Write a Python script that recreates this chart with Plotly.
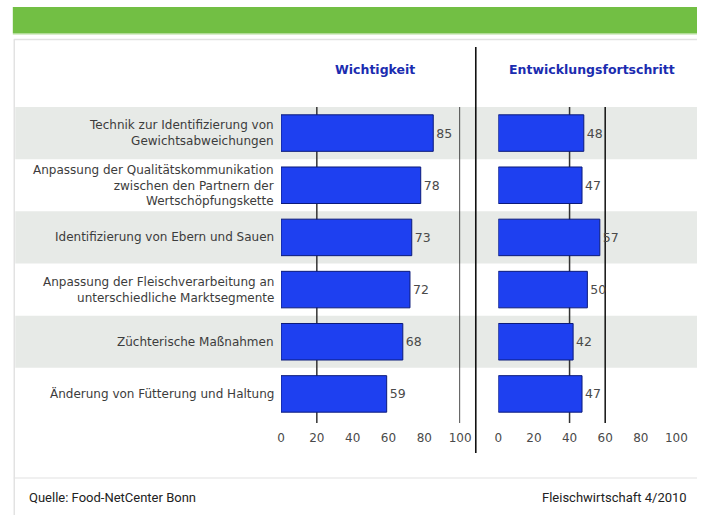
import plotly.graph_objects as go

categories = [
    "Technik zur Identifizierung von<br>Gewichtsabweichungen",
    "Anpassung der Qualitätskommunikation<br>zwischen den Partnern der<br>Wertschöpfungskette",
    "Identifizierung von Ebern und Sauen",
    "Anpassung der Fleischverarbeitung an<br>unterschiedliche Marktsegmente",
    "Züchterische Maßnahmen",
    "Änderung von Fütterung und Haltung",
]
wichtigkeit = [85, 78, 73, 72, 68, 59]
fortschritt = [48, 47, 57, 50, 42, 47]
tick_vals = [0, 20, 40, 60, 80, 100]
tick_text = ["0", "20", "40", "60", "80", "100"]
title_left = "Wichtigkeit"
title_right = "Entwicklungsfortschritt"
source_text = "Quelle: Food-NetCenter Bonn"
pub_text = "Fleischwirtschaft 4/2010"

W, H = 708, 515
def px_x(p): return p / W
def px_y(p): return 1 - p / H

rows = list(range(len(categories)))
bar_color = "#1e40f0"
FONT = "DejaVu Sans, Liberation Sans, Arial, sans-serif"
value_font = dict(family=FONT, size=12.5, color="#4a4a4a")

fig = go.Figure()
fig.add_trace(go.Bar(
    x=wichtigkeit, y=rows, orientation="h", width=0.7,
    marker=dict(color=bar_color, line=dict(color="#0b1a7a", width=1)),
    text=[str(v) for v in wichtigkeit], textposition="outside",
    textfont=value_font, cliponaxis=False, xaxis="x", yaxis="y",
    showlegend=False, hoverinfo="skip",
))
fig.add_trace(go.Bar(
    x=fortschritt, y=rows, orientation="h", width=0.7,
    marker=dict(color=bar_color, line=dict(color="#0b1a7a", width=1)),
    text=[str(v) for v in fortschritt], textposition="outside",
    textfont=value_font, cliponaxis=False, xaxis="x2", yaxis="y",
    showlegend=False, hoverinfo="skip",
))

shapes = []
# green header bar
shapes.append(dict(type="rect", xref="paper", yref="paper", x0=px_x(9), x1=1.0,
                   y0=px_y(33), y1=px_y(7), fillcolor="#72bf44", line=dict(width=0), layer="below"))
shapes.append(dict(type="rect", xref="paper", yref="paper", x0=px_x(9), x1=1.0,
                   y0=px_y(34.5), y1=px_y(33), fillcolor="#b2dc98", line=dict(width=0), layer="below"))
# frame
shapes.append(dict(type="line", xref="paper", yref="paper", x0=px_x(10), x1=1.0,
                   y0=px_y(39.5), y1=px_y(39.5), line=dict(color="#e2e2e2", width=1.5)))
shapes.append(dict(type="line", xref="paper", yref="paper", x0=px_x(10.5), x1=px_x(10.5),
                   y0=px_y(39.5), y1=0, line=dict(color="#e2e2e2", width=1.5)))
shapes.append(dict(type="line", xref="paper", yref="paper", x0=px_x(10), x1=1.0,
                   y0=px_y(478), y1=px_y(478), line=dict(color="#e2e2e2", width=1.2)))
# alternating row bands
for r in rows:
    if r % 2 == 0:
        shapes.append(dict(type="rect", xref="paper", yref="y", x0=px_x(11.5), x1=1.0,
                           y0=r - 0.5, y1=r + 0.5, fillcolor="#e7eae7",
                           line=dict(width=0), layer="below"))
# reference lines
for xr, val, col in [("x", 20, "#333333"), ("x", 100, "#111111"),
                     ("x2", 40, "#333333"), ("x2", 60, "#111111")]:
    shapes.append(dict(type="line", xref=xr, yref="paper", x0=val, x1=val,
                       y0=px_y(423), y1=px_y(107), line=dict(color=col, width=1.5),
                       layer="below"))
# separator
shapes.append(dict(type="line", xref="paper", yref="paper", x0=px_x(482), x1=px_x(482),
                   y0=px_y(453), y1=px_y(47), line=dict(color="#111111", width=1.6)))

annotations = []
for r, c in zip(rows, categories):
    annotations.append(dict(text=c, xref="paper", yref="y", x=px_x(278), y=r,
                            xanchor="right", yanchor="middle", align="right",
                            showarrow=False,
                            font=dict(family=FONT, size=12, color="#3c3c3c")))
annotations.append(dict(text="<b>%s</b>" % title_left, xref="paper", yref="paper",
                        x=px_x(379), y=px_y(70), xanchor="center", yanchor="middle",
                        showarrow=False,
                        font=dict(family=FONT, size=12.5, color="#1b2cb0")))
annotations.append(dict(text="<b>%s</b>" % title_right, xref="paper", yref="paper",
                        x=px_x(601), y=px_y(70), xanchor="center", yanchor="middle",
                        showarrow=False,
                        font=dict(family=FONT, size=12.5, color="#1b2cb0")))
annotations.append(dict(text=source_text, xref="paper", yref="paper",
                        x=px_x(24), y=px_y(497), xanchor="left", yanchor="middle",
                        showarrow=False,
                        font=dict(family="Roboto, sans-serif", size=13, color="#222222")))
annotations.append(dict(text=pub_text, xref="paper", yref="paper",
                        x=px_x(700), y=px_y(497), xanchor="right", yanchor="middle",
                        showarrow=False,
                        font=dict(family="Roboto, sans-serif", size=13, color="#222222")))

axis_common = dict(range=[0, 100], tickvals=tick_vals, ticktext=tick_text,
                   showgrid=False, zeroline=False, showline=False, ticks="",
                   ticklabelstandoff=9,
                   tickfont=dict(family=FONT, size=12, color="#4a4a4a"),
                   fixedrange=True)

fig.update_layout(
    width=W, height=H, margin=dict(l=0, r=0, t=0, b=0),
    paper_bgcolor="white", plot_bgcolor="rgba(0,0,0,0)",
    xaxis=dict(domain=[px_x(283), px_x(466)], anchor="y", **axis_common),
    xaxis2=dict(domain=[px_x(505), px_x(687)], anchor="y", **axis_common),
    yaxis=dict(domain=[px_y(420), px_y(107)], range=[5.5, -0.5], showticklabels=False,
               showgrid=False, zeroline=False, showline=False, ticks="", fixedrange=True),
    shapes=shapes, annotations=annotations, barmode="group",
)

fig.write_html("out.html")
